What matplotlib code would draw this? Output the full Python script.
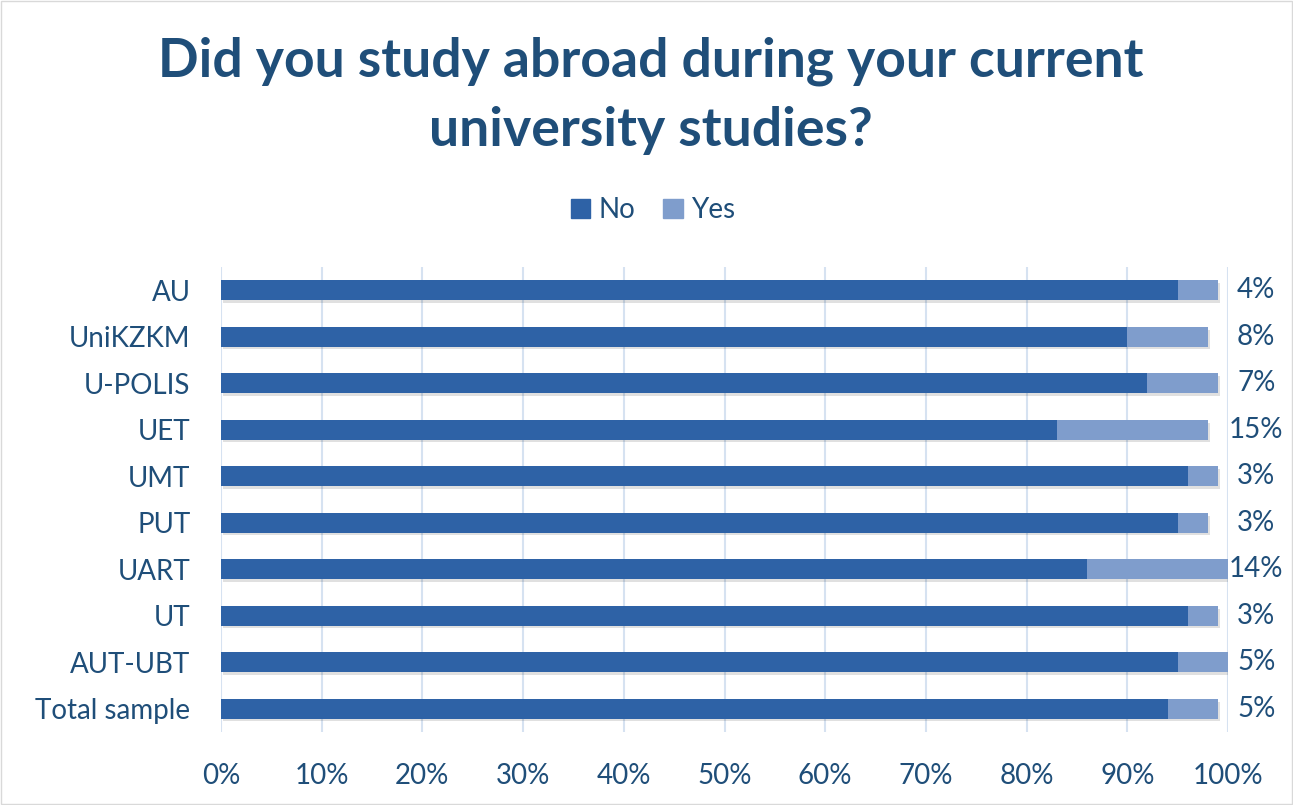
import matplotlib.pyplot as plt
import matplotlib.patheffects as pe
from matplotlib.patches import Patch
import numpy as np

categories = ['AU', 'UniKZKM', 'U-POLIS', 'UET', 'UMT', 'PUT', 'UART', 'UT', 'AUT-UBT', 'Total sample']
no_vals = [95, 90, 92, 83, 96, 95, 86, 96, 95, 94]
yes_vals = [4, 8, 7, 15, 3, 3, 14, 3, 5, 5]
yes_labels = ['4%', '8%', '7%', '15%', '3%', '3%', '14%', '3%', '5%', '5%']

txt = '#1F4E79'
c_no = '#2E62A6'
c_yes = '#7F9DCC'

plt.rcParams['font.family'] = ['Lato', 'DejaVu Sans']

fig = plt.figure(figsize=(12.93, 8.05), dpi=100)
fig.patches.append(plt.Rectangle((0.001, 0.001), 0.998, 0.998, transform=fig.transFigure,
                                 fill=False, edgecolor='#D9D9D9', linewidth=1))
ax = fig.add_axes([221 / 1293, 1 - 732 / 805, 1007 / 1293, 465 / 805])

y = np.arange(len(categories))
shadow = [pe.SimplePatchShadow(offset=(1.5, -2), shadow_rgbFace='#000000', alpha=0.12), pe.Normal()]
b1 = ax.barh(y, no_vals, height=0.42, color=c_no, zorder=3)
b2 = ax.barh(y, yes_vals, left=no_vals, height=0.42, color=c_yes, zorder=3)
for b in list(b1) + list(b2):
    b.set_path_effects(shadow)

for i in range(len(categories)):
    ax.text(102.8, y[i], yes_labels[i], ha='center', va='center', fontsize=20, color=txt)

ax.set_xlim(0, 100)
ax.set_ylim(len(categories) - 0.5, -0.5)
ax.set_yticks(y)
ax.set_yticklabels(categories, fontsize=20, color=txt)
ax.set_xticks(np.arange(0, 101, 10))
ax.set_xticklabels([f'{v}%' for v in range(0, 101, 10)], fontsize=20, color=txt)
ax.tick_params(length=0, pad=22)
ax.tick_params(axis='x', pad=22)
ax.grid(axis='x', color='#D6E2F1', linewidth=1.5, zorder=0)
for s in ax.spines.values():
    s.set_visible(False)

fig.text(0.503, 1 - 96 / 805, 'Did you study abroad during your current\nuniversity studies?',
         ha='center', va='center', fontsize=38.5, fontweight='bold', color=txt, linespacing=1.5)

handles = [Patch(color=c_no), Patch(color=c_yes)]
fig.legend(handles=handles, labels=['No', 'Yes'], loc='center', bbox_to_anchor=(0.505, 1 - 210 / 805),
           ncol=2, frameon=False, fontsize=20, labelcolor=txt, handlelength=0.7, handleheight=0.7,
           handletextpad=0.3, columnspacing=1.0)

fig.savefig('out.png', dpi=100)
